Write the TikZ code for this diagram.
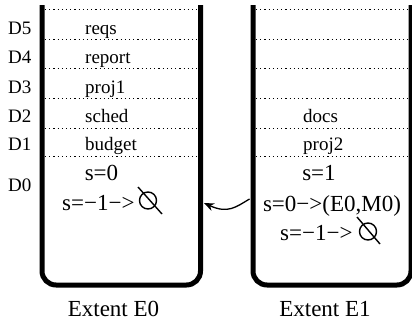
\documentclass[tikz,border=0pt]{standalone}
\usepackage{fontspec}
\setmainfont{Liberation Serif}
\usetikzlibrary{arrows.meta}
\begin{document}
\begin{tikzpicture}[x=1pt,y=-1pt,
  bar/.style={line width=5pt},
  sep/.style={line width=0.8pt, dash pattern=on 1.2pt off 3pt},
  rowlbl/.style={font=\fontsize{19}{19}\selectfont, anchor=base west, inner sep=0pt},
  big/.style={font=\fontsize{23}{23}\selectfont, anchor=base, inner sep=0pt},
  nullsym/.style={line width=1.4pt}]
\useasboundingbox (0,0) rectangle (412,322);
% boxes
\draw[bar] (42,5) -- (42,271) arc[start angle=180, end angle=90, radius=14] -- (186.5,285) arc[start angle=90, end angle=0, radius=14] -- (200.5,5);
\draw[bar] (253,5) -- (253,271) arc[start angle=180, end angle=90, radius=14] -- (397,285) arc[start angle=90, end angle=0, radius=14] -- (411,5);
% separators
\foreach \y in {9,39,68,98,128,156}{
  \draw[sep] (45,\y) -- (198,\y);
  \draw[sep] (256,\y) -- (408.5,\y);
}
% D labels
\node[rowlbl] (d5) at (8,34) {D5};
\node[rowlbl] (d4) at (8,63) {D4};
\node[rowlbl] (d3) at (8,93) {D3};
\node[rowlbl] (d2) at (8,122) {D2};
\node[rowlbl] (d1) at (8,150) {D1};
\node[rowlbl] (d0) at (8,191.5) {D0};
% left rows
\node[rowlbl] (reqs) at (85,34) {reqs};
\node[rowlbl] (report) at (85,63) {report};
\node[rowlbl] (proj1) at (85,93) {proj1};
\node[rowlbl] (sched) at (85,122) {sched};
\node[rowlbl] (budget) at (85,150) {budget};
% right rows
\node[rowlbl] (docs) at (303,122) {docs};
\node[rowlbl] (proj2) at (303,150) {proj2};
% left lower
\node[big] (ls0) at (101.5,180.5) {s=0};
\node[big, anchor=base west] (lsm) at (62,210) {s=−1−>};
\draw[nullsym] (148,200.5) circle (8.5pt);
\draw[nullsym] (138,187) -- (162,214);
% right lower
\node[big] (rs1) at (319,180.5) {s=1};
\node[big] (rs0) at (332,211.5) {s=0−>(E0,M0)};
\node[big, anchor=base west] (rsm) at (280,240) {s=−1−>};
\draw[nullsym] (368,231.5) circle (8.5pt);
\draw[nullsym] (357,217) -- (380,244);
% arrow
\coordinate (from) at (249.5,199);
\coordinate (to) at (204,203);
\draw[line width=1.3pt, -{Stealth[length=10pt,width=8pt]}] (from) .. controls (236,207) and (228,214) .. (to);
% captions
\node[big] (e0) at (113.5,316) {Extent E0};
\node[big] (e1) at (325,316) {Extent E1};
\end{tikzpicture}
\end{document}
